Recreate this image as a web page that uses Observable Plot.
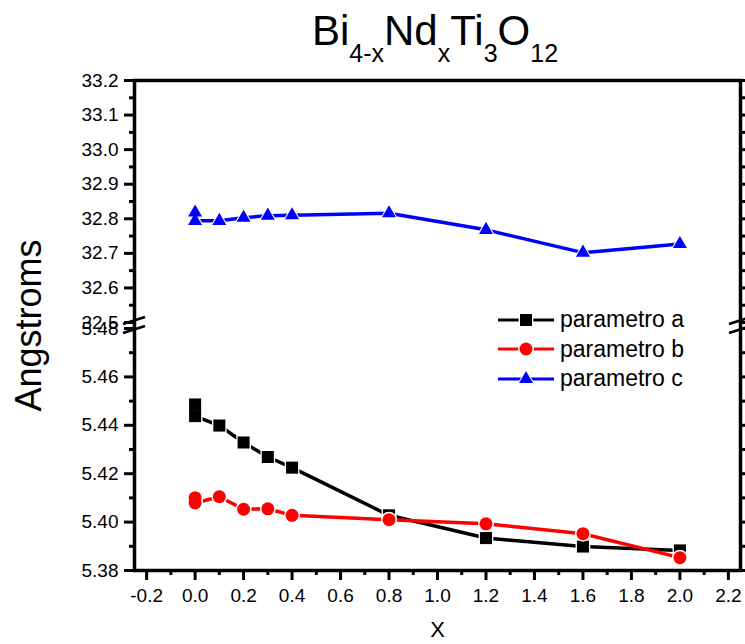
<!DOCTYPE html>
<html><head><meta charset="utf-8">
<script src="https://cdn.jsdelivr.net/npm/d3@7"></script>
<script src="https://cdn.jsdelivr.net/npm/@observablehq/plot@0.6"></script>
<style>
body{margin:0;background:#fff;font-family:"Liberation Sans",Arial,sans-serif;}
#wrap{position:relative;width:745px;height:644px;overflow:hidden;}
#title{position:absolute;left:132px;top:10px;width:606px;text-align:center;font-size:42px;line-height:42px;white-space:nowrap;color:#000;}
#title .s{font-size:25px;vertical-align:-17px;}
#chart{position:absolute;left:0;top:70px;}
#legend{position:absolute;left:498px;top:305px;}
.row{display:flex;align-items:center;height:29.5px;}
.row span{font-size:23px;margin-left:6px;line-height:29.5px;color:#000;}
</style></head><body>
<div id="wrap">
<div id="title">Bi<span class="s">4-x</span>Nd<span class="s">x</span>Ti<span class="s">3</span>O<span class="s">12</span></div>
<div id="chart"></div>
<div id="legend"></div>
</div>
<script>
// x values (two measurements at x = 0)
const xs = [0, 0, 0.1, 0.2, 0.3, 0.4, 0.8, 1.2, 1.6, 2.0];
const paramA = [5.4486, 5.4438, 5.4399, 5.4329, 5.4269, 5.4225, 5.4028, 5.3934, 5.3899, 5.3883];
const paramB = [5.4101, 5.4079, 5.4105, 5.4053, 5.4055, 5.4028, 5.4010, 5.3993, 5.3952, 5.3853];
const paramC = [32.818, 32.794, 32.794, 32.803, 32.809, 32.810, 32.816, 32.768, 32.702, 32.727];

const seriesNames = ["parametro a", "parametro b", "parametro c"];
const seriesColors = ["#000000", "#ff0000", "#0000ff"];
const seriesSymbols = ["square", "circle", "triangle"];

const yLowerMajor = [5.38, 5.40, 5.42, 5.44, 5.46, 5.48];
const yLowerMinor = [5.39, 5.41, 5.43, 5.45, 5.47];
const yUpperMajor = [32.5, 32.6, 32.7, 32.8, 32.9, 33.0, 33.1, 33.2];
const yUpperMinor = [32.55, 32.65, 32.75, 32.85, 32.95, 33.05, 33.15];
const xMajor = [-0.2, 0, 0.2, 0.4, 0.6, 0.8, 1.0, 1.2, 1.4, 1.6, 1.8, 2.0, 2.2];
const xMinor = [-0.1, 0.1, 0.3, 0.5, 0.7, 0.9, 1.1, 1.3, 1.5, 1.7, 1.9, 2.1];

const lowerRange = [5.38, 5.48];
const upperRange = [32.5, 33.2];
const GAP = 6 / 242; // gap between the two segments, in segment units

// broken axis: lower segment -> [0,1], upper segment -> [1+GAP, 2+GAP]
function pos(v) {
  if (v > 20) return 1 + GAP + (v - upperRange[0]) / (upperRange[1] - upperRange[0]);
  return (v - lowerRange[0]) / (lowerRange[1] - lowerRange[0]);
}
function unpos(u) {
  if (u > 1 + GAP / 2) return (upperRange[0] + (u - 1 - GAP) * (upperRange[1] - upperRange[0])).toFixed(1);
  return (lowerRange[0] + u * (lowerRange[1] - lowerRange[0])).toFixed(2);
}

const series = [paramA, paramB, paramC].map((vals, k) =>
  xs.map((x, i) => ({x, y: pos(vals[i]), s: seriesNames[k]})));

const yMajor = [...yLowerMajor, ...yUpperMajor].map(pos);
const yMinor = [...yLowerMinor, ...yUpperMinor].map(pos);

const symR = {square: 6.8, circle: 6.5, triangle: 5.2};
const haloR = {square: 8.3, circle: 8.0, triangle: 6.6};

const marks = [
  Plot.axisY({ticks: yMajor, tickFormat: unpos, tickSize: 10, tickPadding: 6, strokeWidth: 3, fontSize: 19, label: null}),
  Plot.axisY({ticks: yMinor, tickFormat: () => "", tickSize: 5, strokeWidth: 3, label: null}),
  Plot.axisY({anchor: "right", ticks: yMajor, tickFormat: () => "", tickSize: 10, strokeWidth: 3, label: null}),
  Plot.axisY({anchor: "right", ticks: yMinor, tickFormat: () => "", tickSize: 5, strokeWidth: 3, label: null}),
  Plot.axisX({ticks: xMajor, tickFormat: d => d.toFixed(1), tickSize: 10, tickPadding: 8, strokeWidth: 3, fontSize: 19, label: null}),
  Plot.axisX({ticks: xMinor, tickFormat: () => "", tickSize: 5, strokeWidth: 3, label: null}),
  Plot.frame({stroke: "#000", strokeWidth: 3.5}),
  Plot.text(["Angstroms"], {frameAnchor: "left", textAnchor: "middle", dx: -105, rotate: -90, fontSize: 36}),
  Plot.text(["X"], {frameAnchor: "bottom", dy: 66, fontSize: 22})
];
series.forEach((rows, k) => {
  const sym = seriesSymbols[k];
  marks.push(Plot.line(rows, {x: "x", y: "y", stroke: seriesColors[k], strokeWidth: 3.5}));
  marks.push(Plot.dot(rows, {x: "x", y: "y", symbol: sym, r: haloR[sym], fill: "#fff", stroke: "none"}));
  marks.push(Plot.dot(rows, {x: "x", y: "y", symbol: sym, r: symR[sym], fill: seriesColors[k], stroke: "none"}));
});

const chart = Plot.plot({
  width: 745, height: 574,
  marginTop: 10, marginBottom: 74, marginLeft: 134, marginRight: 5,
  x: {domain: [-0.25, 2.25]},
  y: {domain: [0, 2 + GAP]},
  style: {fontFamily: '"Liberation Sans", Arial, sans-serif', color: "#000", background: "#fff", overflow: "visible"},
  marks
});
document.getElementById("chart").appendChild(chart);

// axis-break marks on both vertical axes
const xS = chart.scale("x"), yS = chart.scale("y");
const yb = yS.apply(1 + GAP / 2);
const g = d3.select(chart).append("g").attr("stroke", "#000").attr("stroke-width", 2.5).attr("fill", "none");
[xS.apply(-0.25), xS.apply(2.25)].forEach(xc => {
  [-4.5, 4.5].forEach(off => {
    g.append("path").attr("d", d3.line()([[xc - 11, yb + off + 3.5], [xc + 11, yb + off - 3.5]]));
  });
});

// legend
const leg = d3.select("#legend");
seriesNames.forEach((name, k) => {
  const row = leg.append("div").attr("class", "row");
  const sv = row.append("svg").attr("width", 56).attr("height", 20);
  sv.append("line").attr("x1", 0).attr("x2", 56).attr("y1", 10).attr("y2", 10)
    .attr("stroke", seriesColors[k]).attr("stroke-width", 3);
  const sym = seriesSymbols[k];
  const symType = {square: d3.symbolSquare, circle: d3.symbolCircle, triangle: d3.symbolTriangle}[sym];
  sv.append("path").attr("transform", "translate(28,10)")
    .attr("d", d3.symbol(symType, Math.PI * haloR[sym] ** 2)()).attr("fill", "#fff");
  sv.append("path").attr("transform", "translate(28,10)")
    .attr("d", d3.symbol(symType, Math.PI * symR[sym] ** 2)()).attr("fill", seriesColors[k]);
  row.append("span").text(name);
});
</script>
</body></html>
